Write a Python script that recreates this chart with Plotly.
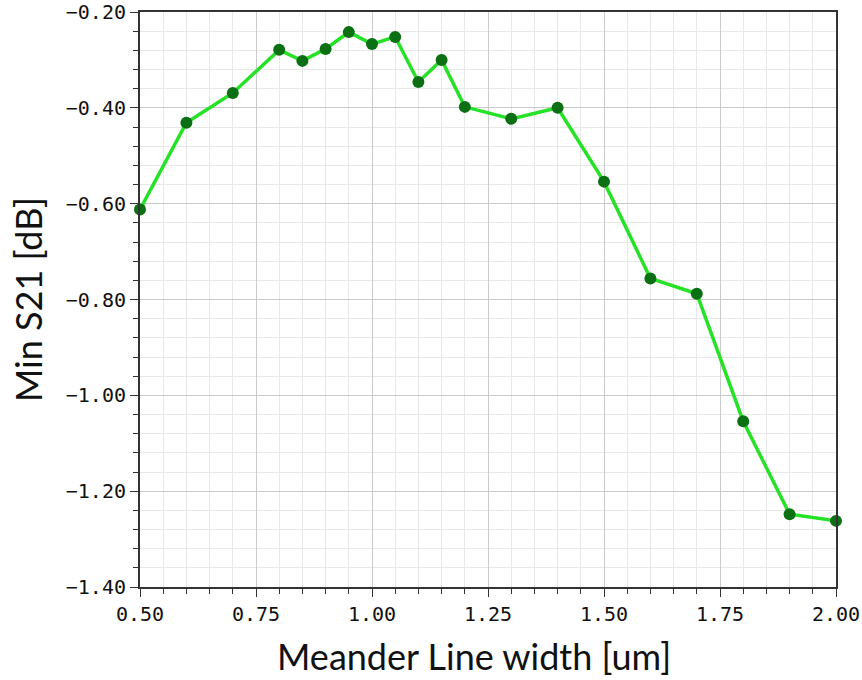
import plotly.graph_objects as go

# Meander line width sweep vs. minimum S21
width_um = [0.50, 0.60, 0.70, 0.80, 0.85, 0.90, 0.95, 1.00, 1.05, 1.10, 1.15,
            1.20, 1.30, 1.40, 1.50, 1.60, 1.70, 1.80, 1.90, 2.00]
min_s21_db = [-0.612, -0.431, -0.369, -0.279, -0.302, -0.277, -0.242, -0.267,
              -0.252, -0.346, -0.300, -0.398, -0.423, -0.400, -0.554, -0.756,
              -0.788, -1.054, -1.248, -1.262]

x_ticks = [0.50, 0.75, 1.00, 1.25, 1.50, 1.75, 2.00]
y_ticks = [-0.20, -0.40, -0.60, -0.80, -1.00, -1.20, -1.40]

fig = go.Figure()
fig.add_trace(go.Scatter(
    x=width_um, y=min_s21_db, mode="lines+markers",
    line=dict(color="#26e226", width=3.5),
    marker=dict(color="#0b7014", size=12),
    cliponaxis=False, showlegend=False,
))

tick_font = dict(family="DejaVu Sans Mono", size=20, color="#111111")
frame = dict(showline=True, linecolor="#333333", linewidth=2, mirror=True,
             showgrid=True, gridcolor="#cacaca", gridwidth=1, zeroline=False,
             ticks="outside", ticklen=8, tickcolor="#333333", automargin=False,
             tickfont=tick_font, ticklabeloverflow="allow")

fig.update_xaxes(
    range=[0.5, 2.0], tickvals=x_ticks, ticktext=[f"{v:.2f}" for v in x_ticks],
    minor=dict(dtick=0.05, showgrid=True, gridcolor="#e8e8e8", ticks="outside",
               ticklen=5, tickcolor="#333333"),
    **frame,
)
fig.update_yaxes(
    range=[-1.40, -0.20], tickvals=y_ticks,
    ticktext=[f"{v:.2f}".replace("-", "\u2212") for v in y_ticks],
    minor=dict(dtick=0.04, tick0=-0.20, showgrid=True, gridcolor="#e8e8e8",
               ticks="outside", ticklen=5, tickcolor="#333333"),
    title=dict(text="Min S21 [dB]",
               font=dict(family="Lato", size=36, color="#111111"), standoff=12),
    **frame,
)
# x-axis title sits a little left of the plot centre
fig.add_annotation(
    text="Meander Line width [um]", xref="paper", yref="paper",
    x=0.48, y=0, xanchor="center", yanchor="top", yshift=-45,
    showarrow=False, font=dict(family="Lato", size=36, color="#111111"),
)
fig.update_layout(
    width=862, height=680,
    margin=dict(l=140, r=26, t=12, b=93),
    plot_bgcolor="white", paper_bgcolor="white",
)
fig.write_html("out.html")
